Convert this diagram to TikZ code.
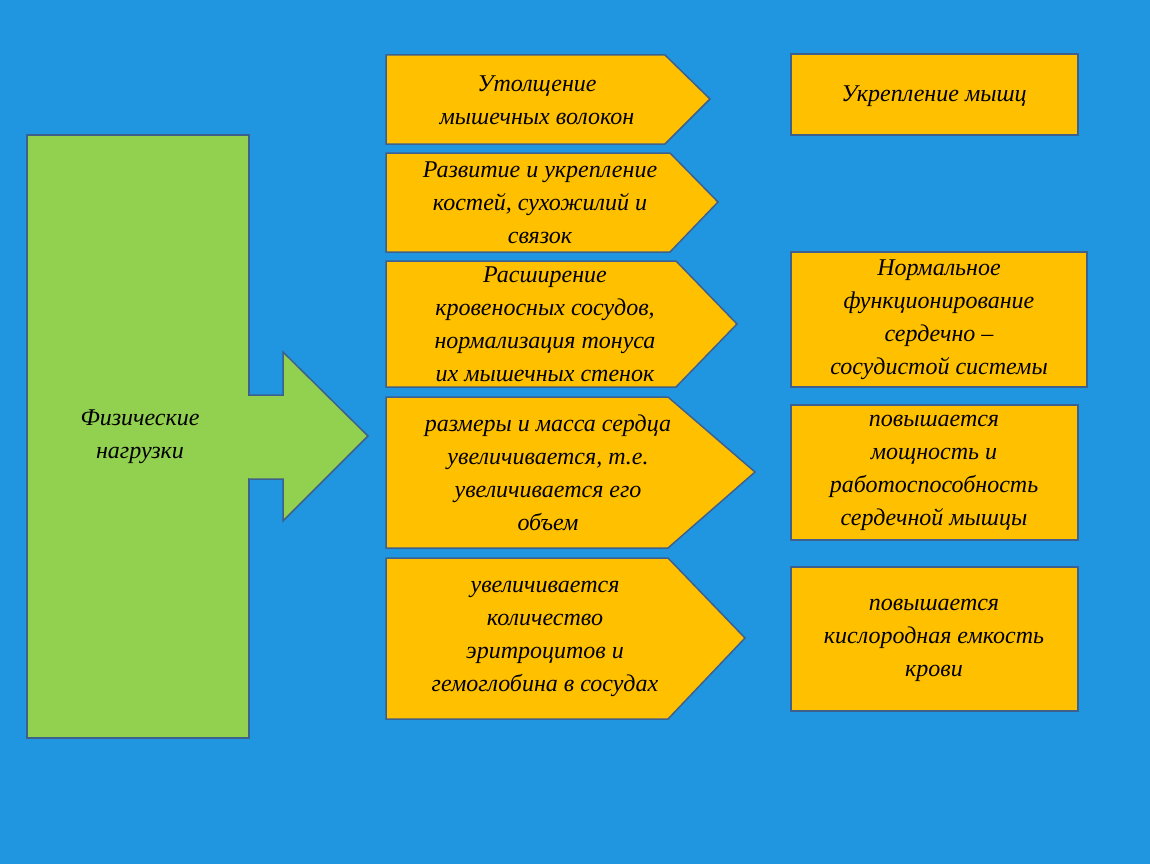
\documentclass[tikz,border=0pt]{standalone}
\usepackage{fontspec}
\setmainfont{Liberation Serif}
\definecolor{bgblue}{RGB}{33,150,224}
\definecolor{boxorange}{RGB}{255,192,0}
\definecolor{boxgreen}{RGB}{146,208,80}
\definecolor{edgeblue}{RGB}{62,96,140}
\tikzset{
  shapebox/.style={draw=edgeblue, line width=1.5pt, line join=miter},
  label text/.style={align=center, font=\itshape\fontsize{24}{33}\selectfont, inner sep=0pt},
}
\begin{document}
\begin{tikzpicture}[x=1pt, y=-1pt]
\fill[bgblue] (0,0) rectangle (1150,864);
\useasboundingbox (0,0) rectangle (1150,864);

% left block and big arrow
\draw[shapebox, fill=boxgreen] (27,135) rectangle (249,738);
\draw[shapebox, fill=boxgreen] (249,395) -- (283,395) -- (283,352) -- (368,436) -- (283,521) -- (283,479) -- (249,479);
\fill[boxgreen] (246,396) rectangle (252,478);
\node[label text] (load) at (140,437) {Физические\\нагрузки};

% pentagons
\draw[shapebox, fill=boxorange] (386,55) -- (665,55) -- (710,99) -- (665,144) -- (386,144) -- cycle;
\draw[shapebox, fill=boxorange] (386,153) -- (670,153) -- (718,202) -- (670,252) -- (386,252) -- cycle;
\draw[shapebox, fill=boxorange] (386,261) -- (676,261) -- (737,324) -- (676,387) -- (386,387) -- cycle;
\draw[shapebox, fill=boxorange] (386,397) -- (668,397) -- (755,472) -- (668,548) -- (386,548) -- cycle;
\draw[shapebox, fill=boxorange] (386,558) -- (668,558) -- (745,638) -- (668,719) -- (386,719) -- cycle;

\node[label text] (fibres) at (537,100) {Утолщение\\мышечных волокон};
\node[label text] (bones) at (540,203) {Развитие и укрепление\\костей, сухожилий и\\связок};
\node[label text] (vessels) at (545,324) {Расширение\\кровеносных сосудов,\\нормализация тонуса\\их мышечных стенок};
\node[label text] (heart) at (548,473) {размеры и масса сердца\\увеличивается, т.е.\\увеличивается его\\объем};
\node[label text] (blood) at (545,639) {увеличивается\\количество\\эритроцитов и\\гемоглобина в сосудах};

% right boxes
\draw[shapebox, fill=boxorange] (791,54) rectangle (1078,135);
\draw[shapebox, fill=boxorange] (791,252) rectangle (1087,387);
\draw[shapebox, fill=boxorange] (791,405) rectangle (1078,540);
\draw[shapebox, fill=boxorange] (791,567) rectangle (1078,711);

\node[label text] (muscles) at (934,96) {Укрепление мышц};
\node[label text] (system) at (939,320) {Нормальное\\функционирование\\сердечно –\\сосудистой системы};
\node[label text] (power) at (934,473) {повышается\\мощность и\\работоспособность\\сердечной мышцы};
\node[label text] (oxygen) at (934,640) {повышается\\кислородная емкость\\крови};
\end{tikzpicture}
\end{document}
